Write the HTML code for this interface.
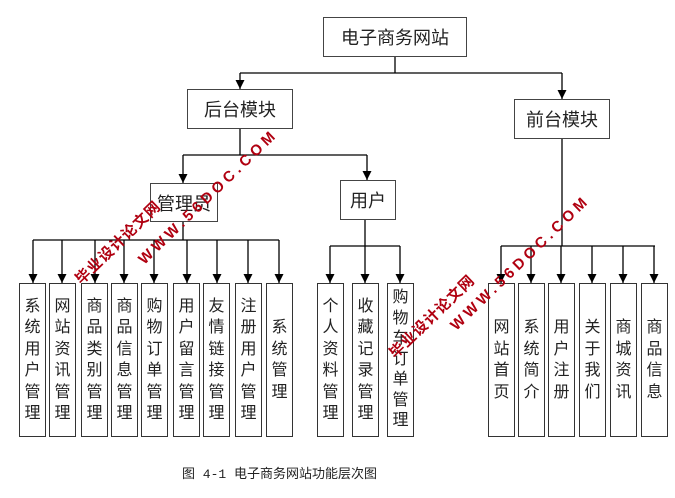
<!DOCTYPE html>
<html><head><meta charset="utf-8"><style>
body{margin:0;background:#fff;width:675px;height:498px;position:relative;overflow:hidden;font-family:"Liberation Sans","Noto Sans CJK SC",sans-serif;color:#222}
.b{position:absolute;border:1.5px solid #444;box-sizing:border-box;background:#fff;display:flex;align-items:center;justify-content:center;font-size:18px}
.v{position:absolute;border:1.5px solid #333;box-sizing:border-box;background:#fff;top:283px;height:154px;width:27px;display:flex;align-items:center;justify-content:center;font-size:16px;line-height:21.5px;text-align:center}
.wm{position:absolute;color:#b00010;font-weight:bold;font-size:15px;white-space:nowrap;transform:rotate(-44deg);transform-origin:left bottom;line-height:16px}
</style></head><body>
<svg width="675" height="498" style="position:absolute;left:0;top:0">
<defs><marker id="a" markerWidth="9" markerHeight="9" refX="9" refY="4.5" orient="auto" markerUnits="userSpaceOnUse"><path d="M0,0 L9,4.5 L0,9z" fill="#000"/></marker></defs>
<g stroke="#000" stroke-width="1.3" fill="none">
<line x1="395" y1="57" x2="395" y2="73"/>
<line x1="240" y1="73" x2="562" y2="73"/>
<line x1="240" y1="73" x2="240" y2="89" marker-end="url(#a)"/>
<line x1="562" y1="73" x2="562" y2="99" marker-end="url(#a)"/>
<line x1="240" y1="129" x2="240" y2="155"/>
<line x1="183" y1="155" x2="367" y2="155"/>
<line x1="183" y1="155" x2="183" y2="183" marker-end="url(#a)"/>
<line x1="367" y1="155" x2="367" y2="180" marker-end="url(#a)"/>
<line x1="183" y1="222" x2="183" y2="240"/>
<line x1="33" y1="240" x2="279" y2="240"/>
<line x1="33" y1="240" x2="33" y2="283" marker-end="url(#a)"/>
<line x1="62" y1="240" x2="62" y2="283" marker-end="url(#a)"/>
<line x1="95" y1="240" x2="95" y2="283" marker-end="url(#a)"/>
<line x1="124" y1="240" x2="124" y2="283" marker-end="url(#a)"/>
<line x1="154" y1="240" x2="154" y2="283" marker-end="url(#a)"/>
<line x1="187" y1="240" x2="187" y2="283" marker-end="url(#a)"/>
<line x1="217" y1="240" x2="217" y2="283" marker-end="url(#a)"/>
<line x1="248" y1="240" x2="248" y2="283" marker-end="url(#a)"/>
<line x1="279" y1="240" x2="279" y2="283" marker-end="url(#a)"/>
<line x1="365" y1="220" x2="365" y2="246"/>
<line x1="330" y1="246" x2="400" y2="246"/>
<line x1="330" y1="246" x2="330" y2="283" marker-end="url(#a)"/>
<line x1="365" y1="246" x2="365" y2="283" marker-end="url(#a)"/>
<line x1="400" y1="246" x2="400" y2="283" marker-end="url(#a)"/>
<line x1="562" y1="139" x2="562" y2="246"/>
<line x1="501" y1="246" x2="655" y2="246"/>
<line x1="501" y1="246" x2="501" y2="283" marker-end="url(#a)"/>
<line x1="531" y1="246" x2="531" y2="283" marker-end="url(#a)"/>
<line x1="561" y1="246" x2="561" y2="283" marker-end="url(#a)"/>
<line x1="592" y1="246" x2="592" y2="283" marker-end="url(#a)"/>
<line x1="623" y1="246" x2="623" y2="283" marker-end="url(#a)"/>
<line x1="654" y1="246" x2="654" y2="283" marker-end="url(#a)"/>
</g></svg>
<div class="b" style="left:323px;top:17px;width:144px;height:40px">电子商务网站</div>
<div class="b" style="left:187px;top:89px;width:106px;height:40px">后台模块</div>
<div class="b" style="left:514px;top:99px;width:96px;height:40px">前台模块</div>
<div class="b" style="left:150px;top:183px;width:68px;height:39px">管理员</div>
<div class="b" style="left:340px;top:180px;width:56px;height:40px">用户</div>
<div class="v" style="left:19px">系<br>统<br>用<br>户<br>管<br>理</div>
<div class="v" style="left:49px">网<br>站<br>资<br>讯<br>管<br>理</div>
<div class="v" style="left:81px">商<br>品<br>类<br>别<br>管<br>理</div>
<div class="v" style="left:111px">商<br>品<br>信<br>息<br>管<br>理</div>
<div class="v" style="left:141px">购<br>物<br>订<br>单<br>管<br>理</div>
<div class="v" style="left:173px">用<br>户<br>留<br>言<br>管<br>理</div>
<div class="v" style="left:203px">友<br>情<br>链<br>接<br>管<br>理</div>
<div class="v" style="left:235px">注<br>册<br>用<br>户<br>管<br>理</div>
<div class="v" style="left:266px">系<br>统<br>管<br>理</div>
<div class="v" style="left:317px">个<br>人<br>资<br>料<br>管<br>理</div>
<div class="v" style="left:352px">收<br>藏<br>记<br>录<br>管<br>理</div>
<div class="v" style="left:387px;line-height:20.5px">购<br>物<br>车<br>订<br>单<br>管<br>理</div>
<div class="v" style="left:488px">网<br>站<br>首<br>页</div>
<div class="v" style="left:518px">系<br>统<br>简<br>介</div>
<div class="v" style="left:548px">用<br>户<br>注<br>册</div>
<div class="v" style="left:579px">关<br>于<br>我<br>们</div>
<div class="v" style="left:610px">商<br>城<br>资<br>讯</div>
<div class="v" style="left:641px">商<br>品<br>信<br>息</div>
<div class="wm" style="left:84px;top:272px;letter-spacing:1px">毕业设计论文网</div>
<div class="wm" style="left:147px;top:252px;letter-spacing:4px">WWW.56DOC.COM</div>
<div class="wm" style="left:398px;top:346px;letter-spacing:1px">毕业设计论文网</div>
<div class="wm" style="left:459px;top:318px;letter-spacing:4px">WWW.56DOC.COM</div>
<div style="position:absolute;left:182px;top:463px;font-size:13px;font-family:'Liberation Mono','Noto Sans CJK SC',monospace;white-space:nowrap">图 4-1 电子商务网站功能层次图</div>
</body></html>
